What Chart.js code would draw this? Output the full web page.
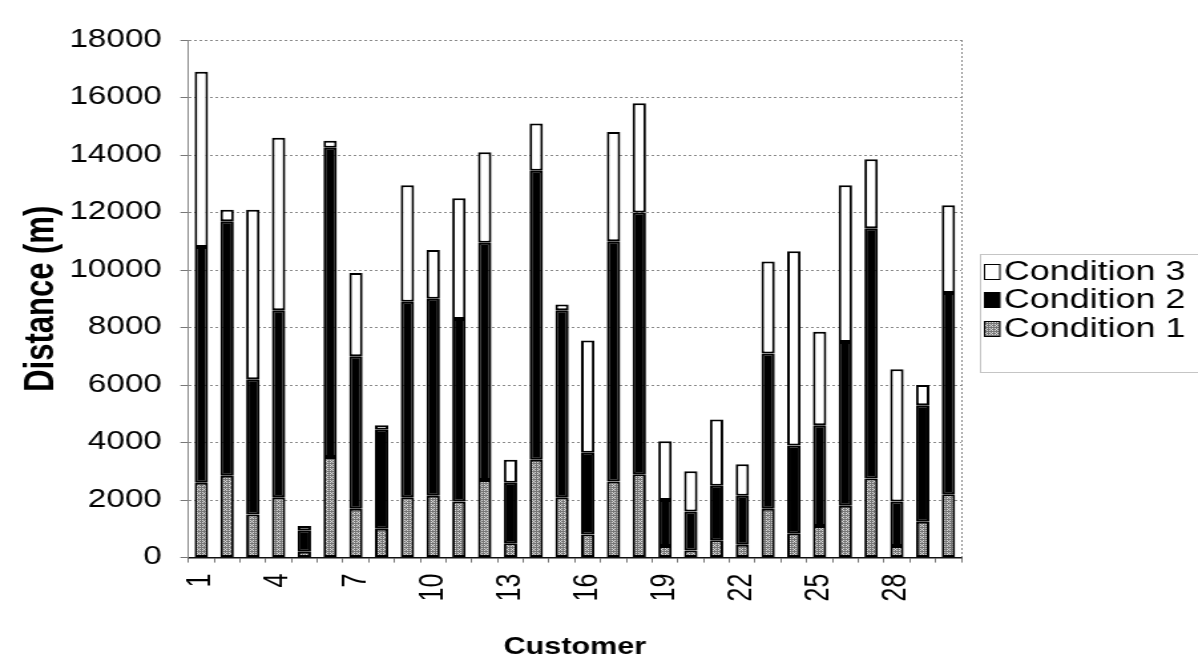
<!DOCTYPE html>
<html>
<head>
<meta charset="utf-8">
<script src="https://cdn.jsdelivr.net/npm/chart.js@4.4.0/dist/chart.umd.min.js"></script>
<style>
  html, body { margin: 0; padding: 0; background: #fff; overflow: hidden; }
  /* the figure is drawn narrow and widened, giving the broad lettering of the printed chart */
  #wrap { width: 901px; height: 670px; transform: scaleX(1.3296); transform-origin: 0 0; }
  canvas { display: block; }
</style>
</head>
<body>
<div id="wrap"><canvas id="chart" width="901" height="670"></canvas></div>
<script>
// Customers along the x axis
const customers = ['1','2','3','4','5','6','7','8','9','10','11','12','13','14','15',
                   '16','17','18','19','20','21','22','23','24','25','26','27','28','29','30'];
// Only every third customer is labelled on the axis
const labelledCustomers = ['1','4','7','10','13','16','19','22','25','28'];
// Distance axis ticks (m)
const distanceTicks = [0, 2000, 4000, 6000, 8000, 10000, 12000, 14000, 16000, 18000];

// Distance travelled under each condition (m), stacked per customer
const condition1 = [2600, 2850, 1500, 2100, 200, 3500, 1700, 1000, 2100, 2150,
                    1950, 2700, 500, 3400, 2100, 800, 2650, 2900, 400, 250,
                    600, 450, 1700, 850, 1100, 1800, 2750, 400, 1250, 2200];
const condition2 = [8200, 8850, 4700, 6500, 750, 10750, 5300, 3450, 6800, 6850,
                    6350, 8250, 2100, 10050, 6500, 2850, 8350, 9100, 1600, 1350,
                    1900, 1700, 5400, 3050, 3500, 5700, 8700, 1550, 4050, 7000];
const condition3 = [6100, 400, 5900, 6000, 150, 250, 2900, 150, 4050, 1700,
                    4200, 3150, 800, 1650, 200, 3900, 3800, 3800, 2050, 1400,
                    2300, 1100, 3200, 6750, 3250, 5450, 2400, 4600, 700, 3050];

const FONT = '"Liberation Sans", Arial, sans-serif';

// Grey cross-hatched fill used for Condition 1
function crossHatch() {
  const t = document.createElement('canvas');
  t.width = 4; t.height = 4;
  const g = t.getContext('2d');
  g.fillStyle = '#767676';
  g.fillRect(0, 0, 4, 4);
  g.fillStyle = '#dcdcdc';
  [[0,0],[2,0],[1,1],[0,2],[2,2]].forEach(([x, y]) => g.fillRect(x, y, 1, 1));
  return g.createPattern(t, 'repeat');
}
const hatch = crossHatch();

// Frame round the plot area and the boxed legend at the right
const frameAndLegend = {
  id: 'frameAndLegend',
  beforeDatasetsDraw(chart) {
    const {ctx, chartArea: a} = chart;
    ctx.save();
    ctx.strokeStyle = '#8a8a8a';
    ctx.lineWidth = 1;
    ctx.setLineDash([2, 2]);
    ctx.beginPath();
    ctx.moveTo(a.right + 0.5, a.top);
    ctx.lineTo(a.right + 0.5, a.bottom);
    ctx.stroke();
    ctx.restore();
  },
  afterDraw(chart) {
    const ctx = chart.ctx;
    const bx = 737, by = 254, bw = 170, bh = 118;
    ctx.save();
    ctx.strokeStyle = '#8a8a8a';
    ctx.lineWidth = 1;
    ctx.setLineDash([1, 1]);
    ctx.strokeRect(bx + 0.5, by + 0.5, bw, bh);
    ctx.setLineDash([]);
    ctx.font = '27px ' + FONT;
    ctx.textBaseline = 'middle';
    ctx.textAlign = 'left';
    const rowY = [272, 300, 329];
    [2, 1, 0].forEach((di, r) => {
      const ds = chart.data.datasets[di];
      const y = rowY[r];
      ctx.fillStyle = ds.backgroundColor;
      ctx.fillRect(740.5, y - 7.5, 11.5, 15);
      ctx.strokeStyle = '#000';
      ctx.lineWidth = 1;
      ctx.strokeRect(740.5, y - 7.5, 11.5, 15);
      ctx.fillStyle = '#000';
      ctx.fillText(ds.label, 755, y + 1);
    });
    ctx.restore();
  }
};

const barStyle = {
  borderColor: '#000',
  borderWidth: 2,
  borderSkipped: false,
  barPercentage: 0.52,
  categoryPercentage: 1.0
};

new Chart(document.getElementById('chart'), {
  type: 'bar',
  data: {
    labels: customers,
    datasets: [
      Object.assign({label: 'Condition 1', data: condition1, backgroundColor: hatch}, barStyle),
      Object.assign({label: 'Condition 2', data: condition2, backgroundColor: '#000'}, barStyle),
      Object.assign({label: 'Condition 3', data: condition3, backgroundColor: '#fff'}, barStyle)
    ]
  },
  options: {
    responsive: false,
    animation: false,
    events: [],
    layout: { padding: { left: 13, right: 178, top: 40, bottom: 8.5 } },
    plugins: {
      legend: { display: false },
      tooltip: { enabled: false }
    },
    scales: {
      x: {
        stacked: true,
        grid: { display: true, drawOnChartArea: false, drawTicks: true, tickLength: 5, color: '#777', offset: true },
        border: { display: true, color: '#111', width: 1.5 },
        ticks: {
          autoSkip: false, minRotation: 90, maxRotation: 90, padding: 11,
          color: '#000', font: { size: 25, family: FONT },
          callback(value, index) {
            const c = customers[index];
            return labelledCustomers.includes(c) ? c : '';
          }
        },
        title: {
          display: true, text: 'Customer', color: '#000',
          font: { size: 23, weight: 'bold', family: FONT },
          padding: { top: 21.5, bottom: 0 }
        }
      },
      y: {
        stacked: true,
        min: 0, max: 18000,
        afterBuildTicks(axis) { axis.ticks = distanceTicks.map(v => ({ value: v })); },
        grid: { color: '#8a8a8a', lineWidth: 1, drawTicks: true, tickLength: 6, tickColor: '#777' },
        border: { display: true, color: '#8a8a8a', width: 1, dash: [2, 2] },
        ticks: {
          padding: 14, color: '#000', font: { size: 25, family: FONT },
          callback: (v) => String(v)
        },
        title: {
          display: true, text: 'Distance (m)', color: '#000',
          font: { size: 31, weight: 'bold', family: FONT },
          padding: { top: 0, bottom: -12 }
        }
      }
    }
  },
  plugins: [frameAndLegend]
});
</script>
</body>
</html>
